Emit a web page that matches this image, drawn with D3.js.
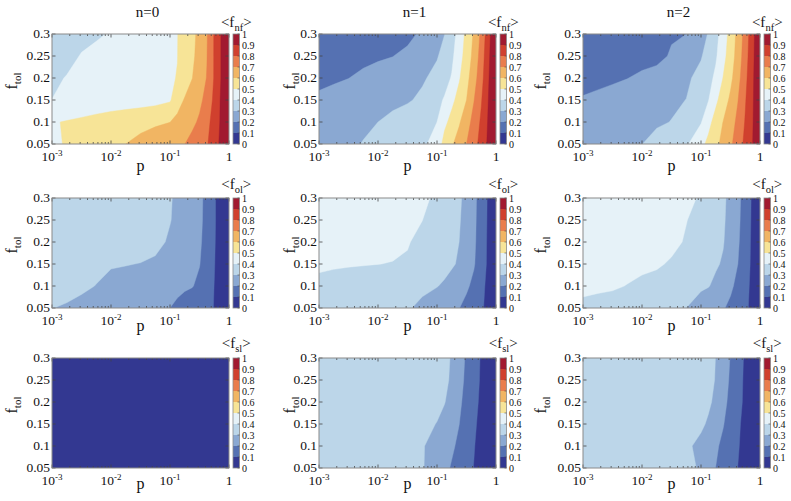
<!DOCTYPE html>
<html><head><meta charset="utf-8">
<script src="https://cdn.jsdelivr.net/npm/d3@7"></script>
<style>
body{margin:0;background:#fff}
svg text{font-family:"Liberation Serif","Times New Roman",Tinos,"DejaVu Serif",serif;fill:#111}
</style></head>
<body><svg id="chart" width="791" height="501" font-family="Liberation Serif, serif"></svg>
<script>
// grid columns: log10(p); grid rows: f_tol (first row = 0.05)
const logP = [-3,-2.75,-2.5,-2.25,-2,-1.75,-1.5,-1.25,-1,-0.875,-0.75,-0.625,-0.5,-0.375,-0.25,-0.125,0];
const fTol = [0.05,0.1,0.15,0.2,0.25,0.3];
const levels = [0,0.1,0.2,0.3,0.4,0.5,0.6,0.7,0.8,0.9];
const bandColors = ["#333891","#5571b2","#8aa8d2","#bcd6e9","#e6f2f8","#f7e497","#f1b563","#e97d4c","#d0402e","#a11a30"];
const colTitles = ["n=0","n=1","n=2"];
const rowKeys = ["nf","ol","sl"];
const xTickVals = [1e-3,1e-2,1e-1,1];
const xTickBase = ["10","10","10","1"];
const xTickExp = ["-3","-2","-1",""];
const yTickVals = [0.05,0.1,0.15,0.2,0.25,0.3];
const yTickText = ["0.05","0.1","0.15","0.2","0.25","0.3"];
const cbTickVals = [0,0.1,0.2,0.3,0.4,0.5,0.6,0.7,0.8,0.9,1];
const cbTickText = ["0","0.1","0.2","0.3","0.4","0.5","0.6","0.7","0.8","0.9","1"];

const fnf_n0 = [
 [0.483,0.507,0.53,0.553,0.577,0.60,0.625,0.65,0.674,0.687,0.699,0.729,0.76,0.791,0.853,0.93,1.0],
 [0.4925,0.506,0.519,0.533,0.546,0.559,0.573,0.586,0.599,0.625,0.652,0.679,0.714,0.77,0.84,0.92,1.0],
 [0.401,0.415,0.428,0.44,0.45,0.455,0.46,0.47,0.49,0.56,0.608,0.643,0.678,0.732,0.823,0.92,1.0],
 [0.38,0.405,0.418,0.43,0.443,0.456,0.469,0.481,0.494,0.502,0.55,0.598,0.65,0.704,0.808,0.91,1.0],
 [0.35,0.37,0.406,0.42,0.434,0.449,0.463,0.478,0.492,0.499,0.538,0.581,0.635,0.697,0.808,0.91,1.0],
 [0.34,0.35,0.37,0.39,0.406,0.426,0.447,0.467,0.488,0.498,0.533,0.575,0.626,0.692,0.808,0.91,1.0]];
const fnf_n1 = [
 [0.24,0.261,0.283,0.304,0.324,0.344,0.363,0.385,0.43,0.538,0.588,0.643,0.70,0.763,0.836,0.922,1.0],
 [0.23,0.248,0.265,0.283,0.30,0.325,0.35,0.375,0.40,0.4735,0.535,0.589,0.659,0.734,0.816,0.914,1.0],
 [0.215,0.225,0.235,0.248,0.262,0.276,0.29,0.318,0.375,0.408,0.474,0.538,0.60,0.696,0.792,0.905,1.0],
 [0.18,0.19,0.199,0.2165,0.235,0.253,0.271,0.288,0.327,0.365,0.407,0.49,0.569,0.658,0.764,0.894,1.0],
 [0.15,0.16,0.169,0.179,0.188,0.198,0.227,0.26,0.293,0.33,0.38,0.458,0.544,0.629,0.744,0.883,1.0],
 [0.13,0.135,0.14,0.145,0.15,0.158,0.1685,0.221,0.273,0.298,0.36,0.435,0.527,0.612,0.722,0.869,1.0]];
const fnf_n2 = [
 [0.24,0.255,0.27,0.284,0.299,0.328,0.357,0.387,0.47,0.526,0.576,0.628,0.683,0.75,0.824,0.90,1.0],
 [0.23,0.242,0.253,0.265,0.277,0.289,0.302,0.348,0.394,0.468,0.54,0.602,0.659,0.723,0.807,0.893,1.0],
 [0.21,0.223,0.236,0.249,0.262,0.274,0.287,0.301,0.364,0.396,0.4785,0.55,0.619,0.697,0.792,0.888,1.0],
 [0.16,0.173,0.185,0.198,0.218,0.24,0.263,0.285,0.327,0.368,0.42,0.503,0.576,0.665,0.773,0.883,1.0],
 [0.13,0.14,0.15,0.16,0.165,0.17,0.2115,0.252,0.293,0.335,0.387,0.468,0.55,0.641,0.755,0.875,1.0],
 [0.12,0.131,0.143,0.154,0.166,0.177,0.189,0.20,0.2685,0.305,0.369,0.446,0.536,0.629,0.74,0.868,1.0]];
const fol_n0 = [
 [0.302,0.289,0.276,0.264,0.251,0.238,0.226,0.213,0.20,0.184,0.167,0.15,0.133,0.116,0.098,0.05,0.01],
 [0.36,0.335,0.315,0.298,0.283,0.269,0.255,0.24,0.226,0.219,0.211,0.204,0.183,0.142,0.099,0.05,0.01],
 [0.37,0.355,0.34,0.32,0.305,0.303,0.298,0.285,0.26,0.246,0.232,0.218,0.203,0.159,0.104,0.05,0.01],
 [0.37,0.365,0.36,0.355,0.35,0.34,0.333,0.325,0.288,0.268,0.249,0.23,0.211,0.172,0.108,0.05,0.01],
 [0.36,0.354,0.347,0.34,0.333,0.326,0.319,0.311,0.3036,0.281,0.259,0.237,0.215,0.178,0.111,0.05,0.01],
 [0.36,0.353,0.345,0.338,0.33,0.323,0.316,0.315,0.307,0.2845,0.262,0.239,0.216,0.1805,0.111,0.05,0.01]];
const fol_n1 = [
 [0.37,0.359,0.349,0.338,0.328,0.317,0.306,0.2865,0.253,0.236,0.219,0.202,0.174,0.144,0.114,0.07,0.02],
 [0.385,0.375,0.364,0.354,0.344,0.334,0.323,0.313,0.303,0.289,0.264,0.239,0.214,0.178,0.129,0.07,0.02],
 [0.41,0.408,0.406,0.404,0.401,0.397,0.39,0.37,0.34,0.326,0.311,0.289,0.248,0.208,0.146,0.08,0.02],
 [0.45,0.445,0.44,0.435,0.43,0.42,0.406,0.376,0.346,0.331,0.316,0.30,0.259,0.216,0.153,0.08,0.02],
 [0.455,0.45,0.445,0.44,0.435,0.425,0.415,0.401,0.363,0.344,0.325,0.307,0.269,0.22,0.156,0.083,0.02],
 [0.46,0.46,0.455,0.45,0.445,0.44,0.435,0.423,0.379,0.357,0.335,0.312,0.277,0.223,0.159,0.085,0.02]];
const fol_n2 = [
 [0.38,0.369,0.357,0.346,0.334,0.323,0.311,0.30,0.263,0.244,0.226,0.207,0.181,0.149,0.118,0.075,0.02],
 [0.42,0.416,0.412,0.397,0.38,0.363,0.346,0.329,0.312,0.304,0.282,0.249,0.216,0.176,0.13,0.075,0.02],
 [0.445,0.44,0.435,0.43,0.42,0.413,0.388,0.362,0.336,0.323,0.31,0.291,0.245,0.20,0.14,0.08,0.02],
 [0.455,0.45,0.445,0.44,0.437,0.432,0.426,0.39,0.356,0.339,0.322,0.305,0.263,0.212,0.149,0.08,0.02],
 [0.46,0.455,0.45,0.445,0.44,0.43,0.42,0.403,0.366,0.347,0.328,0.31,0.274,0.22,0.154,0.083,0.02],
 [0.47,0.465,0.46,0.455,0.45,0.445,0.44,0.432,0.385,0.361,0.338,0.314,0.278,0.224,0.159,0.085,0.02]];
const fsl_n0 = [
 [0,0,0,0,0,0,0,0,0,0,0,0,0,0,0,0,0],
 [0,0,0,0,0,0,0,0,0,0,0,0,0,0,0,0,0],
 [0,0,0,0,0,0,0,0,0,0,0,0,0,0,0,0,0],
 [0,0,0,0,0,0,0,0,0,0,0,0,0,0,0,0,0],
 [0,0,0,0,0,0,0,0,0,0,0,0,0,0,0,0,0],
 [0,0,0,0,0,0,0,0,0,0,0,0,0,0,0,0,0]];
const fsl_n1 = [
 [0.35,0.35,0.348,0.346,0.344,0.34,0.33,0.307,0.25,0.2217,0.192,0.161,0.129,0.0975,0.066,0.035,0.01],
 [0.35,0.35,0.348,0.346,0.344,0.34,0.33,0.3076,0.26,0.237,0.213,0.183,0.144,0.105,0.066,0.035,0.01],
 [0.35,0.35,0.35,0.348,0.346,0.344,0.342,0.34,0.295,0.264,0.2325,0.201,0.159,0.116,0.072,0.04,0.01],
 [0.35,0.35,0.35,0.348,0.346,0.344,0.342,0.34,0.34,0.305,0.261,0.216,0.171,0.127,0.082,0.045,0.01],
 [0.35,0.35,0.35,0.348,0.346,0.344,0.342,0.34,0.34,0.33,0.28,0.23,0.1815,0.135,0.089,0.05,0.01],
 [0.35,0.35,0.35,0.348,0.346,0.344,0.342,0.34,0.34,0.338,0.288,0.238,0.188,0.14,0.092,0.05,0.01]];
const fsl_n2 = [
 [0.35,0.35,0.35,0.348,0.346,0.344,0.35,0.353,0.275,0.237,0.199,0.166,0.133,0.099,0.067,0.035,0.01],
 [0.35,0.35,0.35,0.348,0.346,0.344,0.335,0.322,0.267,0.24,0.213,0.181,0.144,0.107,0.071,0.04,0.01],
 [0.35,0.35,0.35,0.348,0.346,0.344,0.342,0.34,0.322,0.283,0.244,0.205,0.161,0.116,0.071,0.04,0.01],
 [0.35,0.35,0.35,0.348,0.346,0.344,0.342,0.34,0.335,0.321,0.273,0.225,0.177,0.129,0.081,0.042,0.01],
 [0.35,0.35,0.35,0.348,0.346,0.344,0.342,0.34,0.345,0.344,0.2917,0.2395,0.1875,0.135,0.083,0.043,0.01],
 [0.35,0.35,0.35,0.348,0.346,0.344,0.342,0.34,0.345,0.348,0.298,0.247,0.1957,0.141,0.087,0.045,0.01]];

const panelData = [[fnf_n0,fnf_n1,fnf_n2],[fol_n0,fol_n1,fol_n2],[fsl_n0,fsl_n1,fsl_n2]];

// layout
const colLeft = [52,319,583], plotW = 177;
const rowTop = [34,198,358], plotH = 110;
const cbLabelY = [27,189,348];
const pLabelY = [171,331,489];
const ftolX = [17,295,546];

const svg = d3.select("#chart");
const defs = svg.append("defs");
// grid index -> data coordinate (d3.contours puts sample i at i+0.5)
const gx = d3.scaleLinear().domain(logP.map((d,i)=>i+0.5)).range(logP);
const gy = d3.scaleLinear().domain(fTol.map((d,i)=>i+0.5)).range(fTol);

panelData.forEach((rowArr, r) => rowArr.forEach((grid, c) => {
  const x0 = colLeft[c], y0 = rowTop[r];
  const xS = d3.scaleLog().domain([1e-3,1]).range([x0, x0+plotW]);
  const yS = d3.scaleLinear().domain([0.05,0.3]).range([y0+plotH, y0]);
  const id = "clip"+r+c;
  defs.append("clipPath").attr("id",id).append("rect")
    .attr("x",x0).attr("y",y0).attr("width",plotW).attr("height",plotH);
  const values = grid.flat();
  const cs = d3.contours().size([logP.length, fTol.length]).thresholds(levels)(values);
  const proj = d3.geoTransform({point(x,y){ this.stream.point(xS(Math.pow(10,gx(x))), yS(gy(y))); }});
  const path = d3.geoPath(proj);
  const g = svg.append("g").attr("clip-path",`url(#${id})`);
  g.selectAll("path").data(cs).join("path")
    .attr("d",path)
    .attr("fill",d=>bandColors[Math.round(d.value*10)])
    .attr("stroke",d=>bandColors[Math.round(d.value*10)])
    .attr("stroke-width",0.4);

  // ticks (inward)
  const tk = svg.append("g").attr("stroke","#444").attr("stroke-width",0.8);
  xS.ticks().forEach(v=>{
    const major = xTickVals.some(m=>Math.abs(m-v)/m<1e-6);
    const L = major?3.5:2;
    const px = xS(v);
    tk.append("line").attr("x1",px).attr("x2",px).attr("y1",y0).attr("y2",y0+L);
    tk.append("line").attr("x1",px).attr("x2",px).attr("y1",y0+plotH).attr("y2",y0+plotH-L);
  });
  yTickVals.forEach(v=>{
    const py = yS(v);
    tk.append("line").attr("x1",x0).attr("x2",x0+3.5).attr("y1",py).attr("y2",py);
    tk.append("line").attr("x1",x0+plotW).attr("x2",x0+plotW-3.5).attr("y1",py).attr("y2",py);
  });
  svg.append("rect").attr("x",x0).attr("y",y0).attr("width",plotW).attr("height",plotH)
    .attr("fill","none").attr("stroke","#8a8a8a").attr("stroke-width",1);

  // y tick labels
  yTickVals.forEach((v,i)=>{
    svg.append("text").attr("x",x0-2).attr("y",yS(v)+3.5).attr("text-anchor","end")
      .attr("font-size",13.5).text(yTickText[i]);
  });
  // x tick labels
  xTickVals.forEach((v,i)=>{
    const t = svg.append("text").attr("x",xS(v)).attr("y",y0+plotH+17).attr("text-anchor","middle").attr("font-size",13.5);
    t.append("tspan").text(xTickBase[i]);
    if (xTickExp[i]) t.append("tspan").attr("font-size",9).attr("dy",-5).text(xTickExp[i]);
  });
  // axis labels
  svg.append("text").attr("x",x0+plotW/2).attr("y",pLabelY[r]).attr("text-anchor","middle")
    .attr("font-size",16).text("p");
  const fl = svg.append("text").attr("transform",`translate(${ftolX[c]},${y0+plotH/2-8}) rotate(-90)`)
    .attr("text-anchor","middle").attr("font-size",16);
  fl.append("tspan").text("f");
  fl.append("tspan").attr("font-size",11).attr("dy",3.5).text("tol");

  // colorbar
  const cbx = x0+plotW+4, cbw = 6.5;
  const yC = d3.scaleLinear().domain([0,1]).range([y0+plotH, y0]);
  levels.forEach((lv,i)=>{
    svg.append("rect").attr("x",cbx).attr("y",yC(lv+0.1)).attr("width",cbw)
      .attr("height",yC(lv)-yC(lv+0.1)).attr("fill",bandColors[i]);
  });
  svg.append("rect").attr("x",cbx).attr("y",y0).attr("width",cbw).attr("height",plotH)
    .attr("fill","none").attr("stroke","#8a8a8a").attr("stroke-width",0.8);
  cbTickVals.forEach((v,i)=>{
    svg.append("line").attr("x1",cbx+cbw-2).attr("x2",cbx+cbw).attr("y1",yC(v)).attr("y2",yC(v))
      .attr("stroke","#444").attr("stroke-width",0.6);
    svg.append("text").attr("x",cbx+cbw+2.5).attr("y",yC(v)+3.5).attr("font-size",10).text(cbTickText[i]);
  });
  const cl = svg.append("text").attr("x",cbx+cbw/2).attr("y",cbLabelY[r]).attr("text-anchor","middle").attr("font-size",15);
  cl.append("tspan").text("<f");
  cl.append("tspan").attr("font-size",10.5).attr("dy",4).text(rowKeys[r]);
  cl.append("tspan").attr("dy",-4).text(">");

  if (r===0){
    svg.append("text").attr("x",x0+plotW/2+7).attr("y",17).attr("text-anchor","middle")
      .attr("font-size",15).text(colTitles[c]);
  }
}));
</script></body></html>
